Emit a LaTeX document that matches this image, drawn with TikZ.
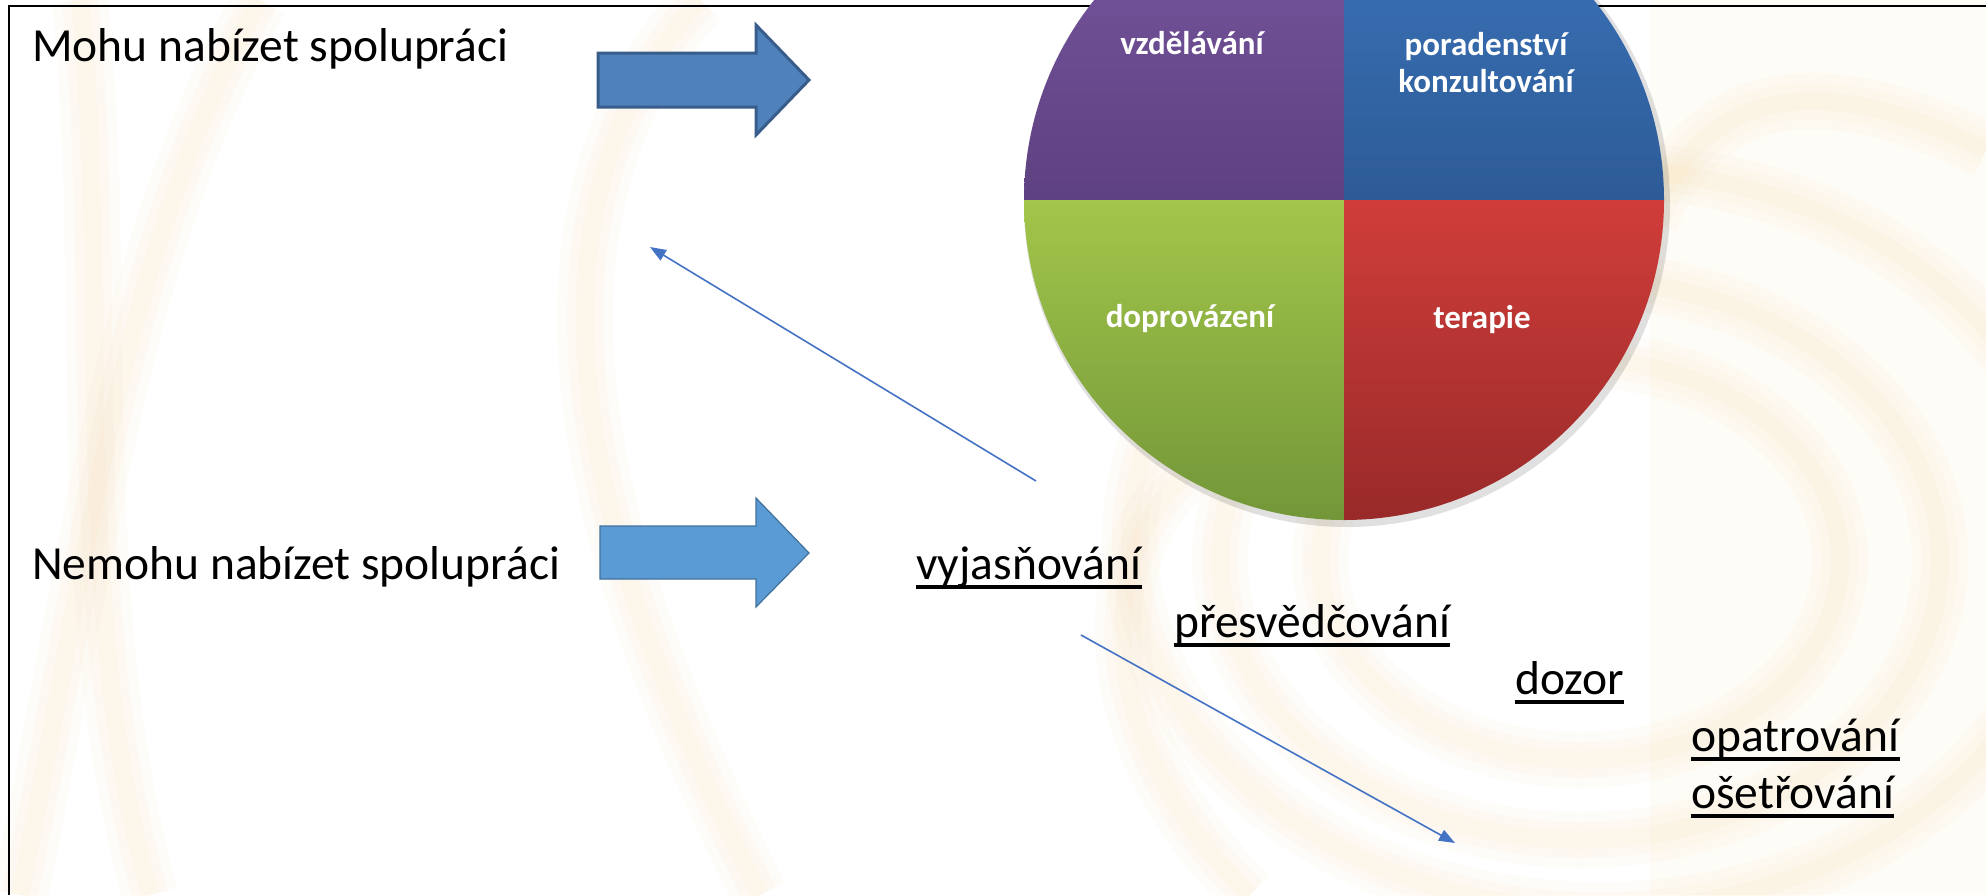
\documentclass[tikz,border=0pt]{standalone}
\usepackage{fontspec}
\setmainfont{Carlito}
\usetikzlibrary{arrows.meta}
\definecolor{cream}{RGB}{250,205,130}
\definecolor{arrowfillA}{RGB}{79,129,189}
\definecolor{arrowlineA}{RGB}{56,93,138}
\definecolor{arrowfillB}{RGB}{91,155,213}
\definecolor{arrowlineB}{RGB}{65,113,156}
\definecolor{thinblue}{RGB}{68,114,196}
\definecolor{purpleT}{RGB}{122,88,162}
\definecolor{purpleB}{RGB}{94,65,128}
\definecolor{blueT}{RGB}{60,118,190}
\definecolor{blueB}{RGB}{45,91,150}
\definecolor{greenT}{RGB}{162,198,74}
\definecolor{greenB}{RGB}{115,150,57}
\definecolor{redT}{RGB}{208,61,58}
\definecolor{redB}{RGB}{152,42,41}
\begin{document}
\begin{tikzpicture}[x=1pt,y=1pt,
  swA/.style={draw=cream, line width=56, opacity=0.045},
  swB/.style={draw=cream, line width=36, opacity=0.05},
  swC/.style={draw=cream, line width=18, opacity=0.06},
  bigtext/.style={font=\fontsize{47.5}{56}\selectfont, anchor=base west, inner sep=0pt, text=black},
  ultext/.style={bigtext},
  pielabel/.style={font=\fontsize{33}{40}\selectfont\bfseries, text=white, anchor=base, inner sep=0pt},
  uline/.style={line width=3.2, black},
  blockA/.style={fill=arrowfillA, draw=arrowlineA, line width=3, line join=miter},
  blockB/.style={fill=arrowfillB, draw=arrowlineB, line width=1.2, line join=miter},
  thinarrow/.style={draw=thinblue, line width=1.6, -{Triangle[length=16, width=12]}},
  frameline/.style={draw=black, line width=2.5}
]
\useasboundingbox (0,0) rectangle (1986,-895);
\clip (0,0) rectangle (1986,-895);
\fill[white] (0,0) rectangle (1986,-895);

% faint, soft background swirls
\fill[cream, opacity=0.06] (1650,0) rectangle (1986,-895);
\foreach \s in {swA,swB,swC}{
  \draw[\s] (80,0) .. controls (110,-300) and (70,-600) .. (150,-895);
  \draw[\s] (260,0) .. controls (120,-250) and (90,-550) .. (20,-895);
  \draw[\s] (700,0) .. controls (520,-200) and (560,-500) .. (760,-895);
  \draw[\s] (1580,-560) ellipse[x radius=260, y radius=200];
  \draw[\s] (1580,-560) ellipse[x radius=360, y radius=280];
  \draw[\s] (1600,-540) ellipse[x radius=470, y radius=370];
  \draw[\s] (1250,-895) .. controls (1050,-700) and (1100,-450) .. (1300,-420);
  \draw[\s] (1986,-150) .. controls (1800,-60) and (1700,-100) .. (1650,-220);
}

% frame lines
\coordinate (fbl) at (9,-895);
\coordinate (ftl) at (9,-6);
\coordinate (ftr) at (1986,-6);
\draw[frameline] (fbl) -- (ftl) -- (ftr);

% left labels
\node[bigtext] (mohu) at (32,-61) {Mohu nabízet spolupráci};
\node[bigtext] (nemohu) at (32,-579) {Nemohu nabízet spolupráci};

% block arrows
\draw[blockA] (598,-53) -- (756,-53) -- (756,-25) -- (809,-80) -- (756,-135) -- (756,-107) -- (598,-107) -- cycle;
\draw[blockB] (600,-526) -- (756,-526) -- (756,-498) -- (809,-553) -- (756,-607) -- (756,-579) -- (600,-579) -- cycle;

% pie
\coordinate (pc) at (1344,-200);
\fill[black, opacity=0.12] (1347,-204) circle[radius=323];
\shade[top color=purpleT, bottom color=purpleB] (pc) -- (1024,-200) arc[start angle=180, end angle=90, radius=320] -- cycle;
\shade[top color=blueT, bottom color=blueB] (pc) -- (1344,120) arc[start angle=90, end angle=0, radius=320] -- cycle;
\shade[top color=greenT, bottom color=greenB] (pc) -- (1024,-200) arc[start angle=180, end angle=270, radius=320] -- cycle;
\shade[top color=redT, bottom color=redB] (pc) -- (1664,-200) arc[start angle=0, end angle=-90, radius=320] -- cycle;

\node[pielabel] (vzd) at (1192,-54) {vzdělávání};
\node[pielabel] (por) at (1486,-55) {poradenství};
\node[pielabel] (kon) at (1486,-92) {konzultování};
\node[pielabel] (dop) at (1190,-327) {doprovázení};
\node[pielabel] (ter) at (1482,-328) {terapie};

% underlined items
\node[ultext] (vyj) at (916,-579) {vyjasňování};
\node[ultext] (pre) at (1174,-637) {přesvědčování};
\node[ultext] (doz) at (1515,-694) {dozor};
\node[ultext] (opa) at (1691,-751) {opatrování};
\node[ultext] (ose) at (1691,-808) {ošetřování};
\foreach \n in {vyj,pre,doz,opa,ose}{
  \draw[uline] ([yshift=-8]\n.base west) -- ([yshift=-8]\n.base east);
}

% thin arrows
\coordinate (a1s) at (1036,-481);
\coordinate (a1e) at (650,-247);
\coordinate (a2s) at (1081,-635);
\coordinate (a2e) at (1455,-843);
\draw[thinarrow] (a1s) -- (a1e);
\draw[thinarrow] (a2s) -- (a2e);
\end{tikzpicture}
\end{document}
